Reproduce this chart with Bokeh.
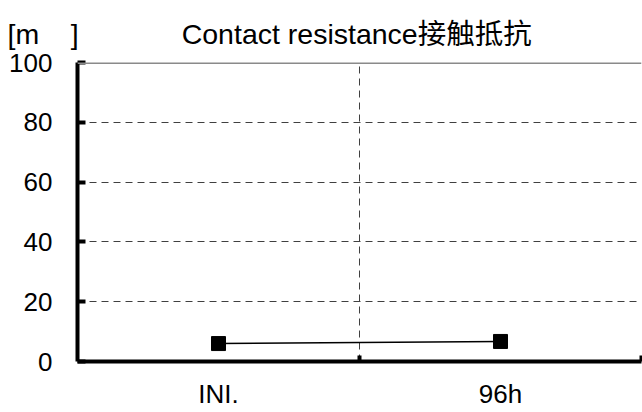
from bokeh.plotting import figure
from bokeh.models import (Range1d, FixedTicker, Span, ColumnDataSource)
from bokeh.embed import file_html
from bokeh.resources import INLINE

categories = ["INI.", "96h"]
resistance = [6.0, 6.7]
y_ticks = [0, 20, 40, 60, 80, 100]
grid_ticks = [20, 40, 60, 80]
title_text = "Contact resistance接触抵抗"
unit_text = "[m\u00a0\u00a0\u00a0\u00a0]"

FONT = "Liberation Sans, Noto Sans CJK SC"

x_pos = [i + 0.5 for i in range(len(categories))]
src = ColumnDataSource(dict(x=x_pos, y=resistance, cat=categories))

p = figure(width=642, height=412, output_backend="svg", toolbar_location=None,
           x_range=Range1d(0, len(categories)), y_range=Range1d(0, 100),
           min_border_left=77, min_border_right=1, min_border_top=62,
           min_border_bottom=51)
p.outline_line_color = None
p.background_fill_color = "white"
p.border_fill_color = "white"

# title line: unit label at the far left, chart title further right
p.title.text = unit_text + "\u00a0" * 13 + title_text
p.title.text_font = FONT
p.title.text_font_size = "28.5px"
p.title.text_font_style = "normal"
p.title.text_color = "black"
p.title.align = "left"
p.title.vertical_align = "top"
p.title.text_line_height = 1.0
p.title.offset = -70
p.title.standoff = 21

# x axis
xa = p.xaxis[0]
xa.ticker = FixedTicker(ticks=x_pos, minor_ticks=[i for i in range(1, len(categories) + 1)])
xa.major_label_overrides = {x: c for x, c in zip(x_pos, categories)}
xa.major_tick_line_color = None
xa.minor_tick_in = 6
xa.minor_tick_out = 0
xa.minor_tick_line_width = 4
xa.minor_tick_line_color = "black"
xa.axis_line_width = 4
xa.axis_line_color = "black"
xa.major_label_text_font = FONT
xa.major_label_text_font_size = "26px"
xa.major_label_text_color = "black"
xa.major_label_standoff = 11

# y axis
ya = p.yaxis[0]
ya.ticker = FixedTicker(ticks=y_ticks)
ya.major_tick_in = 8
ya.major_tick_out = 0
ya.major_tick_line_width = 4
ya.major_tick_line_color = "black"
ya.minor_tick_line_color = None
ya.axis_line_width = 4
ya.axis_line_color = "black"
ya.major_label_text_font = FONT
ya.major_label_text_font_size = "26px"
ya.major_label_text_color = "black"
ya.major_label_standoff = 25

# grids
p.xgrid.ticker = FixedTicker(ticks=[1])
p.xgrid.grid_line_color = "#404040"
p.xgrid.grid_line_dash = "7 5"
p.xgrid.grid_line_width = 1
p.ygrid.ticker = FixedTicker(ticks=grid_ticks)
p.ygrid.grid_line_color = "#404040"
p.ygrid.grid_line_dash = "7 5"
p.ygrid.grid_line_width = 1

top = Span(location=100, dimension="width", line_color="#8a8a8a", line_width=3)
p.add_layout(top)

# data
p.line("x", "y", source=src, line_color="black", line_width=1.5)
p.scatter("x", "y", source=src, marker="square", size=14, fill_color="black",
          line_color="black")

open("out.html", "w").write(file_html(p, INLINE))
